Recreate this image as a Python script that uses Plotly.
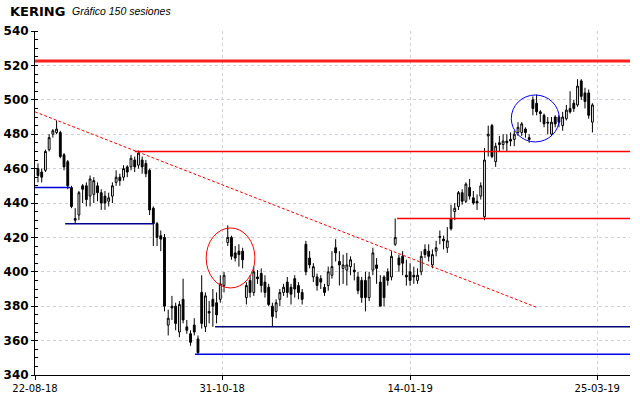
import plotly.graph_objects as go

# ---- data ----
opens = [460, 458, 459, 471, 480, 481, 481, 468, 464, 449,
         431, 433, 450, 450, 444, 445, 450, 446, 444, 441,
         444, 452, 455, 455, 461, 461, 465, 462, 465, 463,
         459, 437, 428, 421, 420, 369, 380, 380, 365, 384,
         368, 364, 369, 361, 388, 368, 377, 384, 382, 384,
         392, 417, 420, 411, 412, 412, 385, 395, 388, 397,
         399, 394, 391, 380, 377, 384, 388, 394, 391, 396,
         392, 388, 416, 408, 397, 397, 396, 391, 392, 398,
         414, 406, 402, 401, 403, 401, 397, 395, 395, 385,
         401, 404, 394, 397, 400, 397, 416, 408, 409, 398,
         400, 398, 395, 400, 413, 412, 404, 412, 420, 419,
         414, 431, 435, 438, 446, 441, 449, 443, 441, 444,
         432, 479, 485, 464, 475, 474, 476, 477, 477, 481,
         481, 483, 478, 500, 498, 493, 491, 487, 480, 490,
         490, 485, 489, 495, 498, 497, 511, 504, 504, 487]
highs = [463, 460, 471, 480, 483, 488, 482, 469, 465, 450,
         437, 447, 451, 452, 456, 455, 452, 448, 447, 446,
         452, 459, 457, 462, 462, 468, 467, 470.5, 467, 465,
         460, 438, 429, 424, 422, 378, 386, 382, 383, 396,
         372, 366, 373, 363, 398, 388, 383, 390, 388, 398,
         400, 427, 421, 415, 416, 414, 394, 398, 403, 401,
         402, 398, 393, 382, 384, 390, 393, 397, 393, 398,
         394, 390, 418, 412, 405, 399, 398, 393, 403, 412,
         419, 412, 410, 411, 409, 405, 400, 397, 400, 400,
         414, 408, 398, 398, 402, 412, 431, 410, 412, 407,
         405, 403, 402, 412, 416, 416, 413, 418, 424, 421,
         426, 439, 440, 447, 448, 452, 454, 447, 445, 452,
         472, 485, 486, 475, 479, 480, 480, 481, 482, 487,
         487, 484, 480, 502, 503, 494, 492, 490, 490, 491,
         491, 493, 497, 505, 500, 512, 512, 507, 506, 498]
lows = [452, 452, 458, 470, 478, 480, 466, 459, 448, 437,
        428, 430, 440, 438, 438, 440, 441, 436, 436, 438,
        440, 450, 450, 453, 455, 459, 458, 460, 457, 455,
        433, 415, 415, 412, 377, 363, 372, 366, 362, 370,
        364, 357, 363, 352, 367, 365, 370, 368, 370, 382,
        388, 415, 407, 406, 403, 402, 381, 385, 386, 393,
        388, 385, 380, 368, 373, 380, 386, 385, 381, 385,
        384, 381, 398, 402, 394, 389, 390, 386, 389, 396,
        406, 392, 393, 392, 398, 395, 387, 382, 377, 383,
        398, 393, 380, 380, 392, 395, 415, 400, 398, 392,
        392, 393, 393, 398, 408, 406, 402, 409, 416, 413,
        411, 424, 430, 436, 439, 440, 442, 439, 436, 442,
        430, 467, 466, 461, 470, 471, 470, 473, 473, 479,
        479, 478, 475, 491, 491, 487, 484, 480, 479, 484,
        484, 482, 488, 492, 493, 496, 500, 495, 489, 481]
closes = [456, 455, 470, 478, 482, 483, 467, 461, 450, 438,
          430, 446, 448, 442, 454, 453, 446, 440, 440, 443,
          450, 455, 453, 460, 458, 466, 461, 469, 461, 457,
          436, 428, 420, 419, 380, 373, 379, 370, 381, 372,
          366, 359, 365, 353, 370, 386, 376, 380, 375, 393,
          398, 420, 409, 408, 410, 407, 392, 388, 400, 396,
          392, 388, 381, 374, 382, 388, 391, 388, 387, 390,
          388, 384, 400, 404, 403, 392, 394, 388, 400, 403,
          411, 404, 404, 404, 407, 400, 389, 385, 385, 397,
          411, 402, 380, 385, 395, 409, 420, 404, 405, 397,
          395, 397, 398, 409, 410, 409, 410, 414, 420.5, 418,
          418, 425, 437, 446, 441, 451, 444, 440, 440, 450,
          465, 480, 467, 473, 474, 476, 475, 476, 480, 484,
          486, 481, 477, 495, 493, 492, 486, 486.5, 487, 486,
          487, 490, 494, 493, 495, 508, 502, 499, 491, 497]
sessions = list(range(len(closes)))

tick_pos = [-0.8, 49.5, 100, 150.3]
tick_labels = ["22-08-18", "31-10-18", "14-01-19", "25-03-19"]

# horizontal support / resistance levels: price, start session, end session
level_prices = [522.5, 470, 431, 449, 428, 368, 352]
level_start = [-0.8, 26, 96.5, -0.8, 7.3, 47.6, 42.2]
level_end = [159.1, 159.1, 159.1, 8.6, 30.9, 159.1, 159.1]
level_colors = ["#ff2020", "#ff0000", "#ff0000", "#0000dd", "#00008c", "#000070", "#0000ee"]
level_widths = [3, 1.5, 1.5, 1.5, 1.5, 1.5, 1.5]

# downward trend line (session, price)
trend_x = [-0.8, 134.4]
trend_y = [493, 379]

# highlighted zones (session range, price range)
circle_x = [[45.2, 58.3], [127.2, 140.1]]
circle_y = [[390.6, 425.5], [475.5, 502.8]]
circle_colors = ["#ff0000", "#0000ff"]

fig = go.Figure()
fig.add_trace(go.Candlestick(
    x=sessions, open=opens, high=highs, low=lows, close=closes,
    increasing=dict(fillcolor="white", line=dict(color="black", width=1)),
    decreasing=dict(fillcolor="black", line=dict(color="black", width=1)),
    whiskerwidth=0, showlegend=False, hoverinfo="skip"))

shapes = []
for p, s, e, c, w in zip(level_prices, level_start, level_end, level_colors, level_widths):
    shapes.append(dict(type="line", xref="x", yref="y", x0=s, x1=e, y0=p, y1=p,
                       line=dict(color=c, width=w), layer="above"))
shapes.append(dict(type="line", xref="x", yref="y", x0=trend_x[0], x1=trend_x[1],
                   y0=trend_y[0], y1=trend_y[1],
                   line=dict(color="#ff0000", width=1, dash="3px,2px"), layer="above"))
for cx, cy, c in zip(circle_x, circle_y, circle_colors):
    shapes.append(dict(type="circle", xref="x", yref="y", x0=cx[0], x1=cx[1],
                       y0=cy[0], y1=cy[1], line=dict(color=c, width=1), layer="above"))

fig.update_layout(
    width=640, height=398,
    margin=dict(l=35, r=10, t=31, b=23, autoexpand=False),
    paper_bgcolor="white", plot_bgcolor="white",
    shapes=shapes,
    annotations=[
        dict(text="KERING", xref="paper", yref="paper", x=-0.0454, y=1.058,
             xanchor="left", yanchor="middle", showarrow=False,
             font=dict(family="DejaVu Sans", size=13, color="black", weight="bold")),
        dict(text="<i>Gráfico 150 sesiones</i>", xref="paper", yref="paper", x=0.0588, y=1.058,
             xanchor="left", yanchor="middle", showarrow=False,
             font=dict(family="Liberation Sans", size=10.5, color="black")),
    ],
)
fig.update_xaxes(
    range=[-0.8, 159.1], tickvals=tick_pos, ticktext=tick_labels,
    showgrid=True, gridcolor="#cfcfd8", griddash="dot", gridwidth=1,
    showline=True, linecolor="black", linewidth=1,
    ticks="outside", ticklen=4, tickcolor="black",
    tickfont=dict(family="DejaVu Sans", size=10, color="black"),
    rangeslider=dict(visible=False), zeroline=False, fixedrange=True, automargin=False)
fig.update_yaxes(
    range=[340, 540], tick0=340, dtick=20,
    showgrid=True, gridcolor="#cfcfd8", griddash="dot", gridwidth=1,
    showline=True, linecolor="black", linewidth=1,
    ticks="outside", ticklen=3, tickcolor="black", ticklabelstandoff=0,
    minor=dict(dtick=5, ticks="inside", ticklen=3, tickcolor="black", showgrid=False),
    tickfont=dict(family="DejaVu Sans", size=12, color="black", weight="bold"),
    zeroline=False, fixedrange=True, automargin=False)

# remove the default page margin so the figure fills the window exactly
fig.write_html("out.html", config={"displayModeBar": False},
               post_script="document.body.style.margin='0';document.body.style.overflow='hidden';")
